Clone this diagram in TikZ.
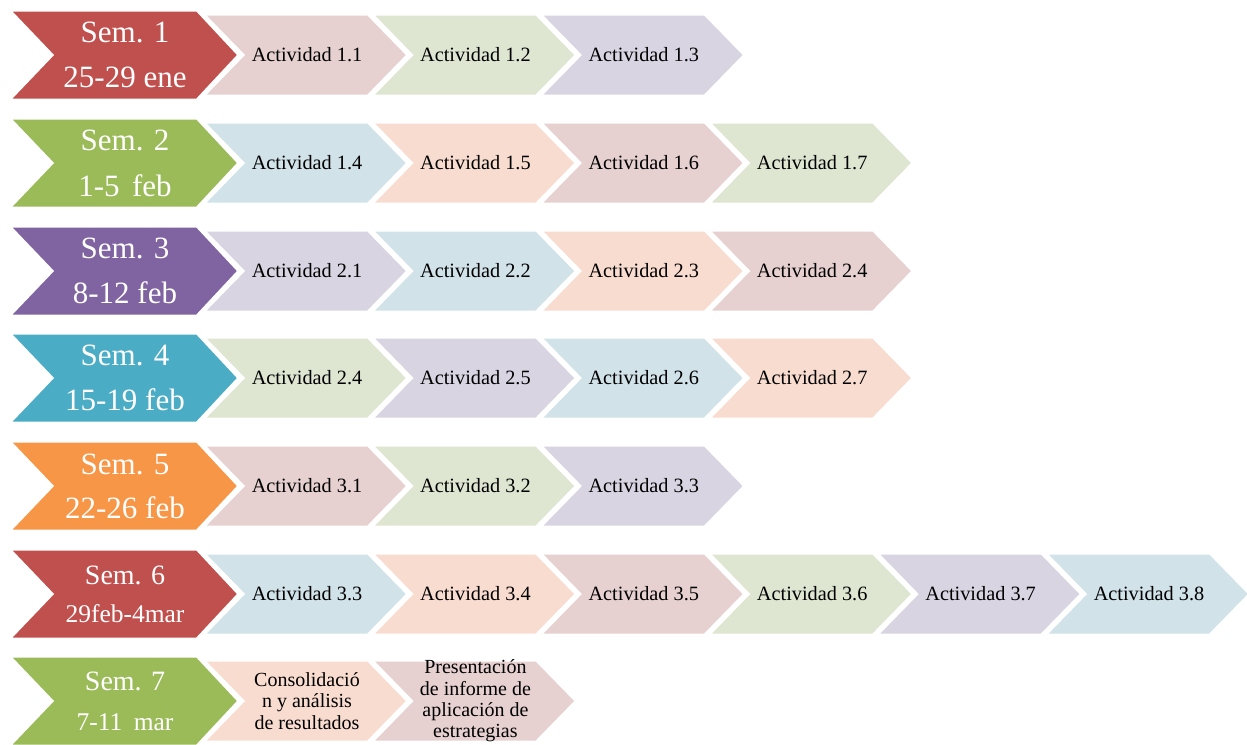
\documentclass[tikz,border=0pt]{standalone}
\usepackage{fontspec}
\setmainfont{Liberation Serif}
\definecolor{sred}{HTML}{C0504D}
\definecolor{sgreen}{HTML}{9BBB59}
\definecolor{spurple}{HTML}{8064A2}
\definecolor{steal}{HTML}{4BACC6}
\definecolor{sorange}{HTML}{F79646}
\definecolor{lred}{HTML}{E6D1D0}
\definecolor{lgreen}{HTML}{DEE6D2}
\definecolor{lpurple}{HTML}{D9D4E1}
\definecolor{lblue}{HTML}{D1E2E9}
\definecolor{lorange}{HTML}{F9DCD0}
\tikzset{
  chevfill/.style={draw=white, line width=3pt, line join=miter},
  semtext/.style={text=white, align=center, inner sep=0pt},
  acttext/.style={text=black, align=center, inner sep=0pt, font=\fontsize{20.3}{24}\selectfont},
  smalltext/.style={text=black, align=center, inner sep=0pt, font=\fontsize{20}{21.3}\selectfont},
}
% #1 top y, #2 colour, #3 node name, #4 font size, #5 baselineskip, #6 text
\newcommand{\semchevron}[6]{%
  \fill[#2, chevfill] (9,#1) -- (197,#1) -- (239,{#1+45}) -- (197,{#1+90}) -- (9,{#1+90}) -- (52,{#1+45}) -- cycle;
  \node[semtext, font=\fontsize{#4}{#5}\selectfont] (#3) at (125,{#1+45}) {#6};
}
% #1 top y, #2 index, #3 colour, #4 node name, #5 style, #6 text
\newcommand{\actchevron}[6]{%
  \pgfmathsetmacro{\actL}{203+168.4*#2}
  \fill[#3, chevfill] (\actL,{#1+4}) -- ({\actL+165},{#1+4}) -- ({\actL+205},{#1+45}) -- ({\actL+165},{#1+86}) -- (\actL,{#1+86}) -- ({\actL+40},{#1+45}) -- cycle;
  \node[#5] (#4) at ({\actL+104},{#1+45}) {#6};
}
\begin{document}
\begin{tikzpicture}[x=1pt, y=-1pt]
\useasboundingbox (0,0) rectangle (1247,744);
\clip (0,0) rectangle (1247,744);
% Row 1
\actchevron{10}{0}{lred}{a11}{acttext}{Actividad 1.1}
\actchevron{10}{1}{lgreen}{a12}{acttext}{Actividad 1.2}
\actchevron{10}{2}{lpurple}{a13}{acttext}{Actividad 1.3}
\semchevron{10}{sred}{s1}{31}{45}{Sem. 1\\25-29 ene}
% Row 2
\actchevron{118}{0}{lblue}{a14}{acttext}{Actividad 1.4}
\actchevron{118}{1}{lorange}{a15}{acttext}{Actividad 1.5}
\actchevron{118}{2}{lred}{a16}{acttext}{Actividad 1.6}
\actchevron{118}{3}{lgreen}{a17}{acttext}{Actividad 1.7}
\semchevron{118}{sgreen}{s2}{31}{46}{Sem. 2\\1-5\hspace{0.4em}feb}
% Row 3
\actchevron{226}{0}{lpurple}{a21}{acttext}{Actividad 2.1}
\actchevron{226}{1}{lblue}{a22}{acttext}{Actividad 2.2}
\actchevron{226}{2}{lorange}{a23}{acttext}{Actividad 2.3}
\actchevron{226}{3}{lred}{a24}{acttext}{Actividad 2.4}
\semchevron{226}{spurple}{s3}{31}{45}{Sem. 3\\8-12 feb}
% Row 4
\actchevron{333}{0}{lgreen}{b24}{acttext}{Actividad 2.4}
\actchevron{333}{1}{lpurple}{a25}{acttext}{Actividad 2.5}
\actchevron{333}{2}{lblue}{a26}{acttext}{Actividad 2.6}
\actchevron{333}{3}{lorange}{a27}{acttext}{Actividad 2.7}
\semchevron{333}{steal}{s4}{31}{45}{Sem. 4\\15-19 feb}
% Row 5
\actchevron{441}{0}{lred}{a31}{acttext}{Actividad 3.1}
\actchevron{441}{1}{lgreen}{a32}{acttext}{Actividad 3.2}
\actchevron{441}{2}{lpurple}{a33}{acttext}{Actividad 3.3}
\semchevron{441}{sorange}{s5}{31}{44}{Sem. 5\\22-26 feb}
% Row 6
\actchevron{549}{0}{lblue}{b33}{acttext}{Actividad 3.3}
\actchevron{549}{1}{lorange}{a34}{acttext}{Actividad 3.4}
\actchevron{549}{2}{lred}{a35}{acttext}{Actividad 3.5}
\actchevron{549}{3}{lgreen}{a36}{acttext}{Actividad 3.6}
\actchevron{549}{4}{lpurple}{a37}{acttext}{Actividad 3.7}
\actchevron{549}{5}{lblue}{a38}{acttext}{Actividad 3.8}
\semchevron{549}{sred}{s6}{28}{38}{Sem. 6\\{\fontsize{25.5}{38}\selectfont 29feb-4mar}}
% Row 7
\actchevron{656}{0}{lorange}{c1}{smalltext}{Consolidació\\n y análisis\\de resultados}
\actchevron{656}{1}{lred}{c2}{smalltext}{Presentación\\de informe de\\aplicación de\\estrategias}
\semchevron{656}{sgreen}{s7}{28}{40}{Sem. 7\\{\fontsize{25.5}{40}\selectfont 7-11\hspace{0.45em}mar}}
\end{tikzpicture}
\end{document}
